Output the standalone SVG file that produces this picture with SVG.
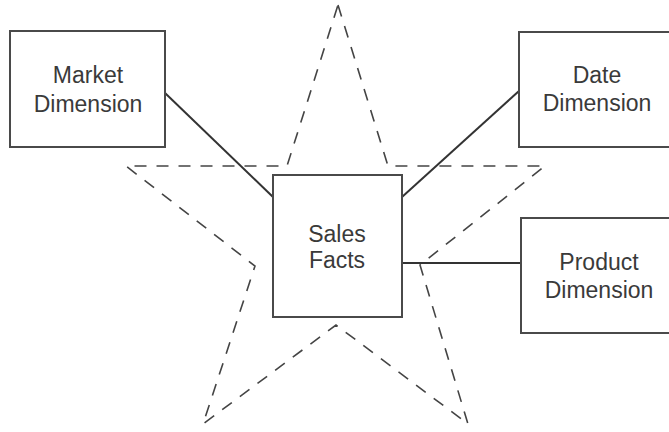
<svg xmlns="http://www.w3.org/2000/svg" width="669" height="432" viewBox="0 0 669 432">
<style>
.box{fill:#fff;stroke:#4a4a4a;stroke-width:2}
.lbl{font-family:"Liberation Sans",Arial,sans-serif;font-size:23px;fill:#3a3a3a;text-anchor:middle}
.conn{stroke:#333;stroke-width:2;fill:none}
.star{fill:none;stroke:#444;stroke-width:1.6;stroke-dasharray:12 10}
</style>
<rect width="669" height="432" fill="#fff"/>
<path class="star" d="M338,5 L388,166 L545,166 L420,265 L468,424 L336,325 L203,424 L255,266 L126,166 L287,166 Z"/>
<g id="connectors">
<line class="conn" x1="165" y1="93" x2="273" y2="197"/>
<line class="conn" x1="519" y1="91" x2="402" y2="197"/>
<line class="conn" x1="402" y1="263" x2="521" y2="263"/>
</g>
<g id="market">
<rect class="box" x="10" y="31" width="155" height="116"/>
<text class="lbl" x="88" y="83">Market</text>
<text class="lbl" x="88" y="112">Dimension</text>
</g>
<g id="date">
<rect class="box" x="519" y="32" width="158" height="115"/>
<text class="lbl" x="597" y="83">Date</text>
<text class="lbl" x="597" y="111">Dimension</text>
</g>
<g id="product">
<rect class="box" x="521" y="218" width="158" height="115"/>
<text class="lbl" x="599" y="270">Product</text>
<text class="lbl" x="599" y="298">Dimension</text>
</g>
<g id="sales">
<rect class="box" x="273" y="175" width="129" height="142"/>
<text class="lbl" x="337" y="242">Sales</text>
<text class="lbl" x="337" y="268">Facts</text>
</g>
</svg>
